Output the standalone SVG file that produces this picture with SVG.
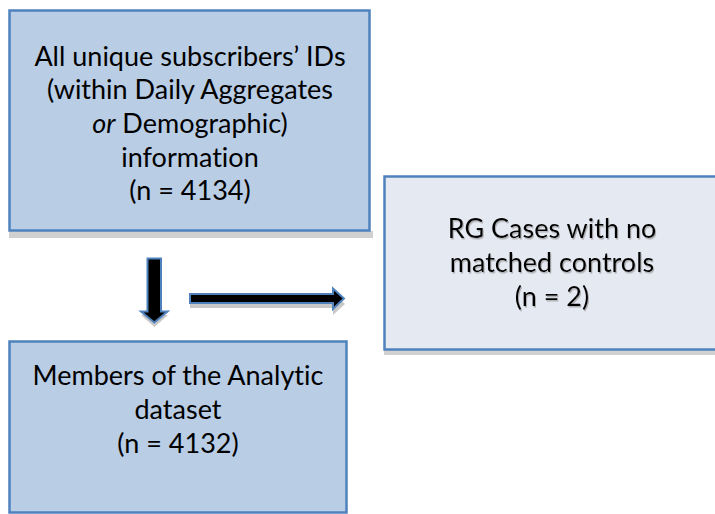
<svg xmlns="http://www.w3.org/2000/svg" width="715" height="514" viewBox="0 0 715 514">
<defs>
<style>
.box{stroke:#4F81BD;stroke-width:2.5}
.blue{fill:#B9CDE5}
.grey{fill:#E5E9F2}
.shadow{fill:#D0D0D0}
.t{font-family:Lato,"Liberation Sans",sans-serif;font-size:27px;fill:#000;text-anchor:middle;font-variant-ligatures:none}
.arrow{fill:#000;stroke:#4F81BD;stroke-width:2}
.ash{fill:#C8C8C8}
</style>
<filter id="ts" x="-10%" y="-10%" width="120%" height="130%">
<feDropShadow dx="1" dy="1.5" stdDeviation="0.6" flood-color="#888" flood-opacity="0.6"/>
</filter>
</defs>
<rect width="715" height="514" fill="#fff"/>

<g id="node-all">
<rect class="shadow" x="9" y="231" width="364" height="7"/>
<rect class="box blue" x="9.5" y="10.5" width="360" height="220"/>
<text class="t" x="190" y="66">All unique subscribers’ IDs</text>
<text class="t" x="190" y="99">(within Daily Aggregates</text>
<text class="t" x="190" y="133"><tspan font-style="italic">or</tspan> Demographic)</text>
<text class="t" x="190" y="167">information</text>
<text class="t" x="190" y="200">(n = 4134)</text>
</g>

<g id="node-rg">
<rect class="shadow" x="384" y="350" width="331" height="5"/>
<rect class="box grey" x="384.5" y="176.5" width="340" height="173"/>
<g filter="url(#ts)">
<text class="t" x="552" y="238">RG Cases with no</text>
<text class="t" x="552" y="272">matched controls</text>
<text class="t" x="552" y="306">(n = 2)</text>
</g>
</g>

<g id="node-members">
<rect class="box blue" x="9.5" y="341.5" width="337" height="171"/>
<text class="t" x="178" y="385">Members of the Analytic</text>
<text class="t" x="178" y="419">dataset</text>
<text class="t" x="178" y="453">(n = 4132)</text>
</g>

<g id="connectors">
<polygon class="ash" points="148,262 161,262 161,315 168,315 154.5,327 141,315 148,315"/>
<polygon class="arrow" points="147.5,258.5 161,258.5 161,311.5 167.5,311.5 154.3,322.5 141,311.5 147.5,311.5"/>
<polygon class="ash" points="190,299 333,299 333,293 345,304 333,315 333,308 190,308"/>
<polygon class="arrow" points="190,294 333,294 333,288.5 344,298.5 333,309 333,303 190,303"/>
</g>
</svg>
